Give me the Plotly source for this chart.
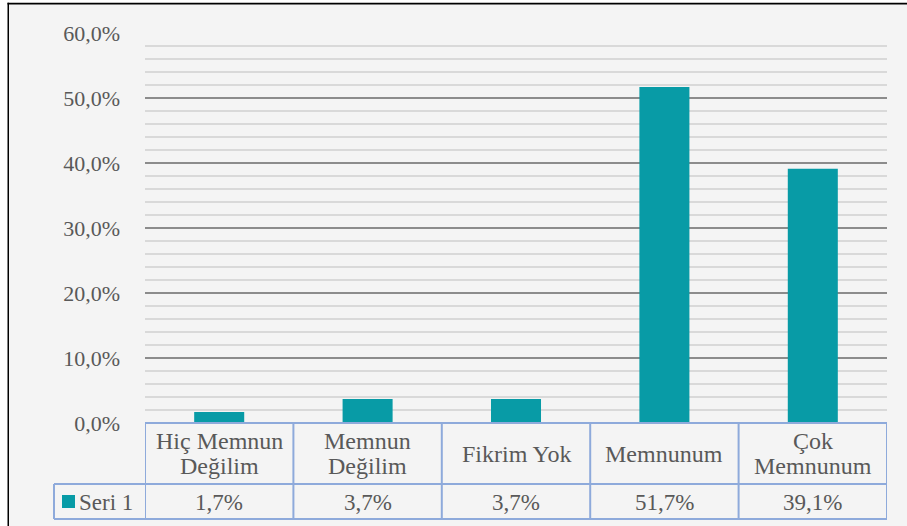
import plotly.graph_objects as go

categories = ["Hiç Memnun<br>Değilim", "Memnun<br>Değilim", "Fikrim Yok", "Memnunum", "Çok<br>Memnunum"]
values = [1.7, 3.7, 3.7, 51.7, 39.1]
series_name = "Seri 1"
bar_color = "#089ba6"

W, H = 907, 526
L, R, T, B = 145, 20, 33, 103
PW, PH = W - L - R, H - T - B


def px_x(x):
    return (x - L) / PW


def px_y(y):
    return (H - B - y) / PH


FONT = "Liberation Serif, Times New Roman, serif"
TXT = "#595959"
BORDER = "#8eaadb"

fig = go.Figure()
fig.add_trace(go.Bar(
    x=list(range(len(categories))), y=values, marker_color=bar_color,
    marker_line_width=0, showlegend=False,
))

shapes = []
# outer frame: light fill with black top/left edges (as thin filled rects)
shapes.append(dict(type="rect", xref="paper", yref="paper",
                   x0=px_x(8), x1=px_x(W + 60), y0=px_y(3), y1=px_y(H + 60),
                   fillcolor="#f4f4f4", line=dict(width=0), layer="below"))
shapes.append(dict(type="rect", xref="paper", yref="paper",
                   x0=px_x(7.5), x1=px_x(W + 60), y0=px_y(2.8), y1=px_y(4.4),
                   fillcolor="black", line=dict(width=0), layer="below"))
shapes.append(dict(type="rect", xref="paper", yref="paper",
                   x0=px_x(7.5), x1=px_x(9.0), y0=px_y(2.8), y1=px_y(H + 60),
                   fillcolor="black", line=dict(width=0), layer="below"))

y_top, y_mid, y_bot = px_y(423), px_y(484), px_y(519)
line_style = dict(color=BORDER, width=2)
shapes.append(dict(type="line", xref="x", yref="paper", x0=-0.5, x1=len(categories) - 0.5,
                   y0=y_top, y1=y_top, line=line_style))
shapes.append(dict(type="line", xref="paper", yref="paper", x0=px_x(54), x1=1,
                   y0=y_mid, y1=y_mid, line=line_style))
shapes.append(dict(type="line", xref="paper", yref="paper", x0=px_x(54), x1=1,
                   y0=y_bot, y1=y_bot, line=line_style))
for i in range(len(categories) + 1):
    shapes.append(dict(type="line", xref="x", yref="paper", x0=i - 0.5, x1=i - 0.5,
                       y0=y_top, y1=y_bot, line=line_style))
shapes.append(dict(type="line", xref="paper", yref="paper", x0=px_x(54), x1=px_x(54),
                   y0=y_mid, y1=y_bot, line=line_style))
shapes.append(dict(type="rect", xref="paper", yref="paper", x0=px_x(62), x1=px_x(75),
                   y0=px_y(508), y1=px_y(495), fillcolor=bar_color, line=dict(width=0)))

annotations = []
LINE_GAP = 25
for i, (c, v) in enumerate(zip(categories, values)):
    lines = c.split("<br>")
    n = len(lines)
    for k, ln in enumerate(lines):
        yc = 453.5 + (k - (n - 1) / 2) * LINE_GAP
        annotations.append(dict(xref="x", yref="paper", x=i, y=px_y(yc), text=ln,
                                showarrow=False, xanchor="center", yanchor="middle",
                                font=dict(family=FONT, size=24, color=TXT)))
    annotations.append(dict(xref="x", yref="paper", x=i, y=px_y(502),
                            text=f"{v:.1f}".replace(".", ",") + "%",
                            showarrow=False, xanchor="center", yanchor="middle",
                            font=dict(family=FONT, size=23, color=TXT)))
annotations.append(dict(xref="paper", yref="paper", x=px_x(77), y=px_y(502), text=series_name,
                        showarrow=False, xanchor="left", yanchor="middle",
                        font=dict(family=FONT, size=23, color=TXT)))

fig.update_layout(
    width=W, height=H,
    margin=dict(l=L, r=R, t=T, b=B, pad=0),
    paper_bgcolor="white", plot_bgcolor="rgba(0,0,0,0)",
    separators=",.",
    bargap=0.663,
    shapes=shapes, annotations=annotations,
    xaxis=dict(range=[-0.5, len(categories) - 0.5], showticklabels=False, showgrid=False,
               zeroline=False, showline=False, ticks=""),
    yaxis=dict(range=[0, 60], dtick=10, tickformat=".1f", ticksuffix="%",
               showgrid=True, gridcolor="#8c8c8c", gridwidth=1.5, zeroline=False,
               showline=False, ticks="", ticklabelstandoff=24,
               tickfont=dict(family=FONT, size=22, color=TXT),
               minor=dict(dtick=2, showgrid=True, gridcolor="#d9d9d9", gridwidth=1.5)),
)

fig.write_html("out.html", config={"displayModeBar": False},
               post_script="document.body.style.margin='0';document.body.style.overflow='hidden';")
